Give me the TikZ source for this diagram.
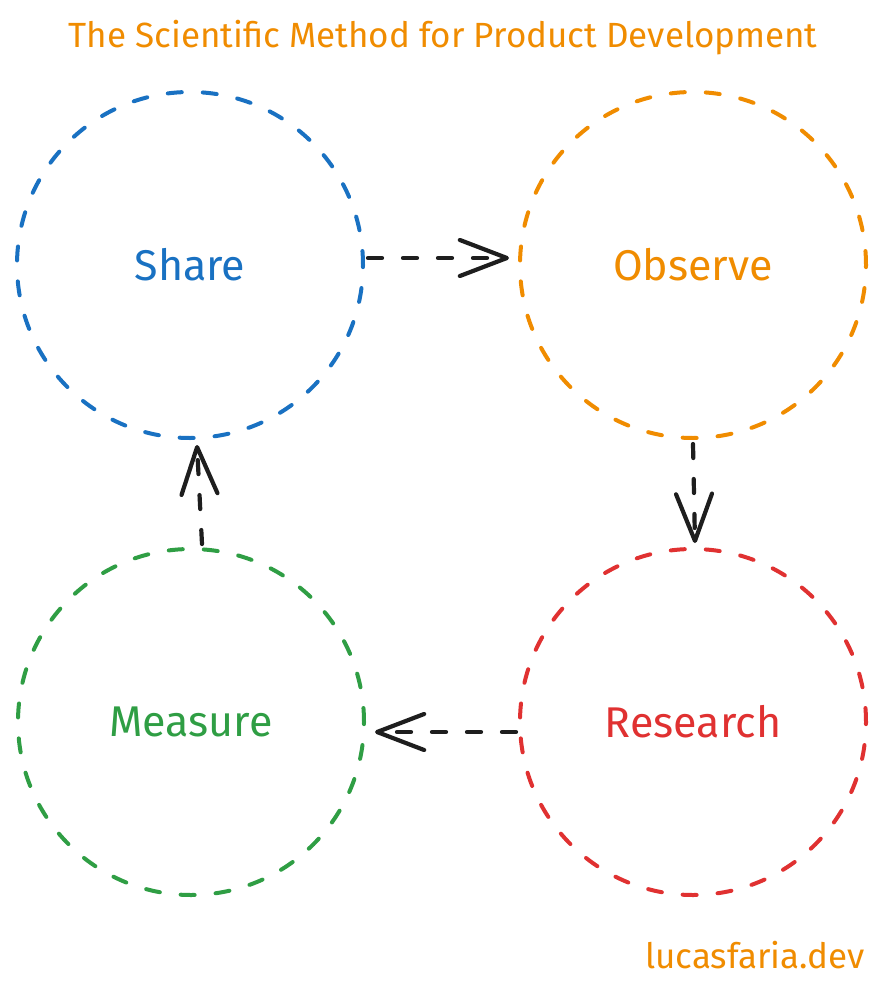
\documentclass[tikz,border=0pt]{standalone}
\usepackage{fontspec}
\setmainfont{Fira Sans}
\usetikzlibrary{arrows.meta}
\definecolor{exblue}{HTML}{1971C2}
\definecolor{exorange}{HTML}{F08C00}
\definecolor{exgreen}{HTML}{2F9E44}
\definecolor{exred}{HTML}{E03131}
\definecolor{exblack}{HTML}{1E1E1E}
\begin{document}
\begin{tikzpicture}[x=1pt,y=-1pt,
  stage/.style={circle, draw=#1, text=#1, line width=4pt, line cap=round, dash pattern=on 14pt off 21pt,
    minimum size=346pt, inner sep=0pt, font=\fontsize{43}{46}\selectfont},
  flow/.style={draw=exblack, line width=4.2pt, line cap=round, dash pattern=on 14pt off 21pt,
    -{Straight Barb[length=47pt,width=36pt,line width=4.2pt,round]}},
  label/.style={text=exorange, font=\fontsize{35}{38}\selectfont}]
\useasboundingbox[fill=white] (0,0) rectangle (885,998);
\node[label] (title) at (443,38) {The Scientific Method for Product Development};
\node[label] (footer) at (755,955) {lucasfaria.dev};
\node[stage=exblue] (share) at (190,265) {Share};
\node[stage=exorange] (observe) at (693,265) {Observe};
\node[stage=exgreen] (measure) at (191,722) {Measure};
\node[stage=exred] (research) at (693,722) {Research};
\draw[flow] ([shift={(3,-7)}]share.east) -- ([shift={(-9,-7)}]observe.west);
\draw[flow] ([shift={(0,4)}]observe.south) -- ([shift={(2,-4)}]research.north);
\draw[flow] ([shift={(-2,10)}]research.west) -- ([shift={(9,10)}]measure.east);
\draw[flow] ([shift={(11,-3)}]measure.north) -- ([shift={(7,5)}]share.south);
\end{tikzpicture}
\end{document}
